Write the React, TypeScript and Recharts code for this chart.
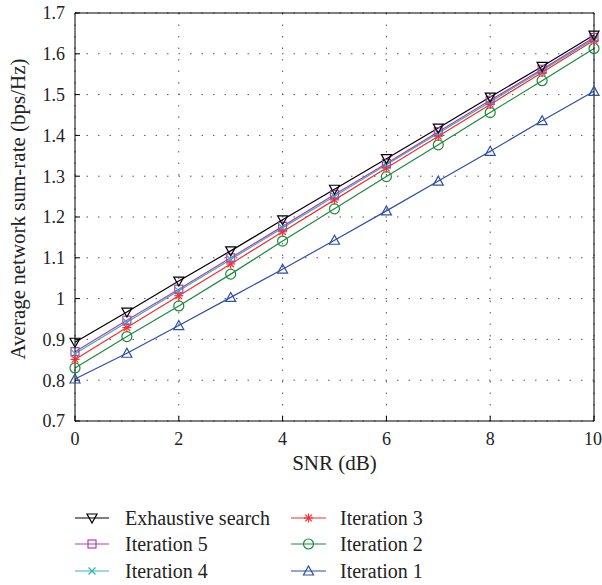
import React from "react"
import {
  LineChart,
  Line,
  XAxis,
  YAxis,
  CartesianGrid,
  Legend,
} from "recharts"

const snr = [0, 1, 2, 3, 4, 5, 6, 7, 8, 9, 10]
const exhaustive = [0.893, 0.967, 1.043, 1.117, 1.193, 1.268, 1.343, 1.418, 1.494, 1.569, 1.646]
const iter5 = [0.87, 0.947, 1.023, 1.1, 1.177, 1.255, 1.331, 1.409, 1.486, 1.562, 1.64]
const iter4 = [0.865, 0.942, 1.019, 1.096, 1.173, 1.251, 1.328, 1.405, 1.482, 1.559, 1.637]
const iter3 = [0.851, 0.929, 1.007, 1.085, 1.164, 1.242, 1.32, 1.398, 1.476, 1.554, 1.633]
const iter2 = [0.83, 0.907, 0.982, 1.06, 1.141, 1.22, 1.299, 1.377, 1.456, 1.534, 1.613]
const iter1 = [0.803, 0.866, 0.934, 1.003, 1.072, 1.143, 1.215, 1.288, 1.361, 1.436, 1.508]

const xTicks = [0, 2, 4, 6, 8, 10]
const yTicks = [0.7, 0.8, 0.9, 1.0, 1.1, 1.2, 1.3, 1.4, 1.5, 1.6, 1.7]

type MarkerKind = "down" | "square" | "x" | "star" | "circle" | "up"

const series: { key: string; name: string; color: string; marker: MarkerKind; values: number[] }[] = [
  { key: "iter1", name: "Iteration 1", color: "#2e4fa8", marker: "up", values: iter1 },
  { key: "iter2", name: "Iteration 2", color: "#1b8a3c", marker: "circle", values: iter2 },
  { key: "iter3", name: "Iteration 3", color: "#ff2a2a", marker: "star", values: iter3 },
  { key: "iter4", name: "Iteration 4", color: "#30b5b5", marker: "x", values: iter4 },
  { key: "iter5", name: "Iteration 5", color: "#b040b0", marker: "square", values: iter5 },
  { key: "exhaustive", name: "Exhaustive search", color: "#000000", marker: "down", values: exhaustive },
]

const legendOrder = ["exhaustive", "iter5", "iter4", "iter3", "iter2", "iter1"]

const data = snr.map((x, i) => {
  const row: Record<string, number> = { snr: x }
  series.forEach((s) => (row[s.key] = s.values[i]))
  return row
})

const FONT = "'Liberation Serif', serif"

function Marker({ kind, cx, cy, color }: { kind: MarkerKind; cx: number; cy: number; color: string }) {
  const p = { stroke: color, strokeWidth: 1.2, fill: "none" }
  switch (kind) {
    case "down":
      return <polygon {...p} points={`${cx - 5},${cy - 4} ${cx + 5},${cy - 4} ${cx},${cy + 5}`} />
    case "up":
      return <polygon {...p} points={`${cx - 5},${cy + 4} ${cx + 5},${cy + 4} ${cx},${cy - 5}`} />
    case "square":
      return <rect {...p} x={cx - 4} y={cy - 4} width={8} height={8} />
    case "circle":
      return <circle {...p} cx={cx} cy={cy} r={5} />
    case "x":
      return (
        <g {...p}>
          <line x1={cx - 3.5} y1={cy - 3.5} x2={cx + 3.5} y2={cy + 3.5} />
          <line x1={cx - 3.5} y1={cy + 3.5} x2={cx + 3.5} y2={cy - 3.5} />
        </g>
      )
    case "star":
      return (
        <g {...p}>
          <line x1={cx - 4.5} y1={cy} x2={cx + 4.5} y2={cy} />
          <line x1={cx} y1={cy - 4.5} x2={cx} y2={cy + 4.5} />
          <line x1={cx - 3.3} y1={cy - 3.3} x2={cx + 3.3} y2={cy + 3.3} />
          <line x1={cx - 3.3} y1={cy + 3.3} x2={cx + 3.3} y2={cy - 3.3} />
        </g>
      )
  }
}

function LegendContent() {
  const rows = [18, 44, 71]
  const cols = [
    { x1: 75, x2: 109, tx: 125 },
    { x1: 291, x2: 326, tx: 340 },
  ]
  return (
    <svg width={602} height={85} style={{ display: "block" }}>
      {legendOrder.map((k, i) => {
        const s = series.find((d) => d.key === k)!
        const c = cols[Math.floor(i / 3)]
        const y = rows[i % 3]
        return (
          <g key={k}>
            <line x1={c.x1} x2={c.x2} y1={y} y2={y} stroke={s.color} strokeWidth={1.2} />
            <Marker kind={s.marker} cx={(c.x1 + c.x2) / 2} cy={y} color={s.color} />
            <text x={c.tx} y={y} dy="0.35em" fontSize={20} fill="#222">
              {s.name}
            </text>
          </g>
        )
      })}
    </svg>
  )
}

// rotated y label, a little above the plot's middle like the original
function YLabel() {
  return (
    <text
      x={18}
      y={209}
      transform="rotate(-90 18 209)"
      textAnchor="middle"
      dy="0.35em"
      fontSize={21}
      fill="#222"
    >
      Average network sum-rate (bps/Hz)
    </text>
  )
}

const tickStyle = { fontSize: 18, fill: "#222" }

export default function App() {
  return (
    <div style={{ position: "absolute", left: 0, top: 0, background: "#fff" }}>
      <style>{`svg text { font-family: ${FONT} !important; }`}</style>
      <LineChart
        width={602}
        height={585}
        data={data}
        margin={{ top: 12, right: 7, left: 0, bottom: 104 }}
      >
        <CartesianGrid
          stroke="#555"
          strokeDasharray="1.5 10"
          horizontalValues={yTicks}
          verticalValues={xTicks}
        />
        <XAxis
          dataKey="snr"
          type="number"
          domain={[0, 10]}
          ticks={xTicks}
          height={60}
          tickSize={-5}
          tickMargin={16}
          tick={tickStyle}
          stroke="#000"
          label={{ value: "SNR (dB)", position: "insideBottom", offset: 11, fontSize: 21, fill: "#222" }}
        />
        <XAxis
          xAxisId="top"
          orientation="top"
          dataKey="snr"
          type="number"
          domain={[0, 10]}
          ticks={xTicks}
          height={1}
          tickSize={-5}
          tick={false}
          stroke="#000"
        />
        <YAxis
          type="number"
          domain={[0.7, 1.7]}
          ticks={yTicks}
          width={75}
          tickSize={-5}
          tickMargin={15}
          tick={tickStyle}
          stroke="#000"
          tickFormatter={(v: number) => String(Number(v.toFixed(1)))}
          label={{ content: () => <YLabel /> }}
        />
        <YAxis
          yAxisId="right"
          orientation="right"
          type="number"
          domain={[0.7, 1.7]}
          ticks={yTicks}
          width={1}
          tickSize={-5}
          tick={false}
          stroke="#000"
        />
        <Legend
          layout="horizontal"
          verticalAlign="middle"
          align="center"
          content={() => <LegendContent />}
          wrapperStyle={{ position: "absolute", left: 0, top: 500, width: 602, height: 85 }}
        />
        {series.map((s) => (
          <Line
            key={s.key}
            dataKey={s.key}
            name={s.name}
            type="linear"
            stroke={s.color}
            strokeWidth={1.2}
            isAnimationActive={false}
            dot={(props: any) => (
              <Marker key={`${s.key}-${props.index}`} kind={s.marker} cx={props.cx} cy={props.cy} color={s.color} />
            )}
            activeDot={false}
          />
        ))}
      </LineChart>
    </div>
  )
}
